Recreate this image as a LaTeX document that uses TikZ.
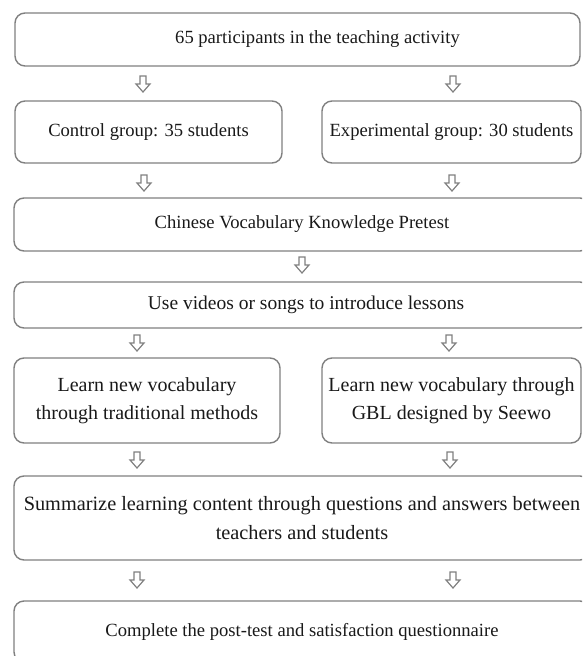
\documentclass[tikz,border=0pt]{standalone}
\usepackage{fontspec}
\setmainfont{Liberation Serif}
\begin{document}
\begin{tikzpicture}[x=1pt,y=-1pt,
  box/.style={draw=black!50, line width=1.4pt, rounded corners=10pt, fill=white,
    inner sep=0pt, align=center, text=black!90,
    font=\fontsize{18.6}{27}\selectfont},
  bigtext/.style={font=\fontsize{20}{28}\selectfont},
  blockarr/.style={draw=black!50, line width=1.2pt, line join=miter, fill=white}
]
\useasboundingbox (0,0) rectangle (582,656);
\clip (0,0) rectangle (582,656);
\fill[white] (0,0) rectangle (582,656);

\node[box, minimum width=565pt, minimum height=53pt] (b1) at (297.5,39.5) {\hspace*{40pt}65 participants in the teaching activity};
\node[box, minimum width=267pt, minimum height=62pt] (ctrl) at (148.5,132) {Control group: 35 students};
\node[box, minimum width=259pt, minimum height=62pt] (exp) at (451.5,132) {Experimental group: 30 students};
\node[box, minimum width=576pt, minimum height=53pt] (pre) at (302,224.5) {Chinese Vocabulary Knowledge Pretest};
\node[box, font=\fontsize{19.5}{27}\selectfont, minimum width=576pt, minimum height=46pt] (use) at (302,305) {\hspace*{8pt}Use videos or songs to introduce lessons};
\node[box, bigtext, minimum width=266pt, minimum height=85pt] (learnl) at (147,400.5) {Learn new vocabulary\\through traditional methods};
\node[box, bigtext, minimum width=259pt, minimum height=85pt] (learnr) at (451.5,400.5) {Learn new vocabulary through\\GBL designed by Seewo};
\node[box, font=\fontsize{20.3}{29}\selectfont, minimum width=576pt, minimum height=84pt] (sum) at (302,518) {Summarize learning content through questions and answers between\\teachers and students};
\node[box, minimum width=576pt, minimum height=61pt] (comp) at (302,631.5) {Complete the post-test and satisfaction questionnaire};

\coordinate (a1l) at (143,84);
\coordinate (a1r) at (453,84);
\coordinate (a2l) at (144,183);
\coordinate (a2r) at (452,183);
\coordinate (a3) at (302,265);
\coordinate (a4l) at (137,343);
\coordinate (a4r) at (449,343);
\coordinate (a5l) at (137,460);
\coordinate (a5r) at (450,460);
\coordinate (a6l) at (137,580);
\coordinate (a6r) at (453,580);

\foreach \c in {a1l,a1r,a2l,a2r,a3,a4l,a4r,a5l,a5r,a6l,a6r}{
  \draw[blockarr, shift={(\c)}] (-3,-8) -- (3,-8) -- (3,0) -- (7,0) -- (0,8) -- (-7,0) -- (-3,0) -- cycle;
}
\end{tikzpicture}
\end{document}
